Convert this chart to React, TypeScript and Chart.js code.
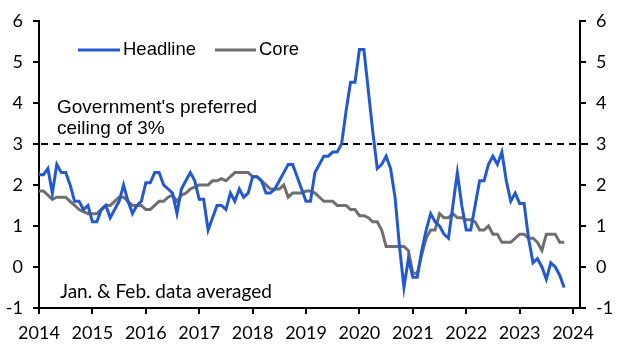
import React, { useEffect, useRef } from "react";
import { Chart, registerables } from "chart.js";

Chart.register(...registerables);

// Monthly series, first value = Dec 2013 (Jan & Feb averaged)
const startYear = 2013;
const startMonth = 12;

const headline: number[] = [
  2.5,
  2.25, 2.25, 2.4, 1.8, 2.5, 2.3, 2.3, 2.0, 1.6, 1.6, 1.4, 1.5,
  1.1, 1.1, 1.4, 1.5, 1.2, 1.4, 1.6, 2.0, 1.6, 1.3, 1.5, 1.6,
  2.05, 2.05, 2.3, 2.3, 2.0, 1.9, 1.8, 1.3, 1.9, 2.1, 2.3, 2.1,
  1.65, 1.65, 0.9, 1.2, 1.5, 1.5, 1.4, 1.8, 1.6, 1.9, 1.7, 1.8,
  2.2, 2.2, 2.1, 1.8, 1.8, 1.9, 2.1, 2.3, 2.5, 2.5, 2.2, 1.9,
  1.6, 1.6, 2.3, 2.5, 2.7, 2.7, 2.8, 2.8, 3.0, 3.8, 4.5, 4.5,
  5.3, 5.3, 4.3, 3.3, 2.4, 2.5, 2.7, 2.4, 1.7, 0.5, -0.5, 0.2,
  -0.25, -0.25, 0.4, 0.9, 1.3, 1.1, 1.0, 0.8, 0.7, 1.5, 2.3, 1.5,
  0.9, 0.9, 1.5, 2.1, 2.1, 2.5, 2.7, 2.5, 2.8, 2.1, 1.6, 1.8,
  1.55, 1.55, 0.7, 0.1, 0.2, 0.0, -0.3, 0.1, 0.0, -0.2, -0.5,
];

const core: number[] = [
  1.85,
  1.85, 1.85, 1.75, 1.65, 1.7, 1.7, 1.7, 1.6, 1.5, 1.4, 1.35, 1.3,
  1.3, 1.3, 1.4, 1.5, 1.5, 1.6, 1.7, 1.7, 1.6, 1.5, 1.5, 1.5,
  1.4, 1.4, 1.5, 1.6, 1.6, 1.7, 1.75, 1.6, 1.75, 1.8, 1.9, 1.95,
  2.0, 2.0, 2.0, 2.1, 2.1, 2.15, 2.1, 2.2, 2.3, 2.3, 2.3, 2.3,
  2.2, 2.2, 2.1, 2.0, 1.9, 1.9, 1.9, 2.0, 1.7, 1.8, 1.8, 1.8,
  1.85, 1.85, 1.8, 1.7, 1.6, 1.6, 1.6, 1.5, 1.5, 1.5, 1.4, 1.4,
  1.25, 1.25, 1.2, 1.1, 1.1, 0.9, 0.5, 0.5, 0.5, 0.5, 0.5, 0.4,
  -0.15, -0.15, 0.3, 0.7, 0.9, 0.9, 1.3, 1.2, 1.2, 1.3, 1.2, 1.2,
  1.15, 1.15, 1.1, 0.9, 0.9, 1.0, 0.8, 0.8, 0.6, 0.6, 0.6, 0.7,
  0.8, 0.8, 0.7, 0.7, 0.6, 0.4, 0.8, 0.8, 0.8, 0.6, 0.6,
];

const seriesLabels = ["Headline", "Core"];
const yTicks = [-1, 0, 1, 2, 3, 4, 5, 6];
const xFirstYear = 2014;
const xLastYear = 2024;
const xAxisEnd = 2024.13;
const ceilingValue = 3;
const ceilingText = ["Government's preferred", "ceiling of 3%"];
const noteText = "Jan. & Feb. data averaged";

const BLUE = "#2259d0";
const GREY = "#6f6f6f";
const TICK_FONT = { family: "Lato, 'Noto Sans', sans-serif", size: 18 };
const NOTE_FONT = "19px Lato, 'Noto Sans', sans-serif";
const TEXT_FONT = "19px 'Liberation Sans', Arial, sans-serif";
const LEGEND_FONT = "18.5px 'Liberation Sans', Arial, sans-serif";

const toPoints = (vals: number[]) =>
  vals.map((v, i) => ({ x: startYear + (startMonth - 1 + i) / 12, y: v }));

const overlay = {
  id: "overlay",
  beforeDatasetsDraw(chart: any) {
    const { ctx, chartArea, scales } = chart;
    const y = scales.y.getPixelForValue(ceilingValue);
    ctx.save();
    ctx.strokeStyle = "#000";
    ctx.lineWidth = 2;
    ctx.setLineDash([7, 5]);
    ctx.beginPath();
    ctx.moveTo(chartArea.left + 2, y);
    ctx.lineTo(chartArea.right + 13, y);
    ctx.stroke();
    ctx.restore();
  },
  afterDraw(chart: any) {
    const { ctx } = chart;
    ctx.save();
    ctx.fillStyle = "#000";
    ctx.textBaseline = "middle";
    ctx.textAlign = "left";
    // legend
    const ds = chart.data.datasets;
    const legendItems = [
      { x0: 78, x1: 120, tx: 123 },
      { x0: 215, x1: 256, tx: 259 },
    ];
    ds.forEach((d: any, i: number) => {
      const it = legendItems[i];
      ctx.strokeStyle = d.borderColor;
      ctx.lineWidth = 3;
      ctx.beginPath();
      ctx.moveTo(it.x0, 50);
      ctx.lineTo(it.x1, 50);
      ctx.stroke();
      ctx.font = LEGEND_FONT;
      ctx.fillText(d.label, it.tx, 50);
    });
    // annotation
    ctx.font = TEXT_FONT;
    ctx.fillText(ceilingText[0], 57, 108);
    ctx.fillText(ceilingText[1], 57, 129);
    ctx.font = NOTE_FONT;
    ctx.fillText(noteText, 60, 292);
    ctx.restore();
  },
};

const axisGrid = {
  drawOnChartArea: false,
  drawTicks: true,
  tickLength: 6,
  color: "#000",
  lineWidth: 2,
};
const axisBorder = { display: true, color: "#000", width: 2 };

export default function App() {
  const ref = useRef<HTMLCanvasElement>(null);
  useEffect(() => {
    if (!ref.current) return;
    const yScale = (position: string, width: number) => ({
      type: "linear",
      position,
      min: yTicks[0],
      max: yTicks[yTicks.length - 1],
      afterBuildTicks: (s: any) => {
        s.ticks = yTicks.map((v) => ({ value: v }));
      },
      ticks: {
        font: TICK_FONT,
        color: "#000",
        padding: 10,
        callback: (v: any) => String(v),
      },
      grid: axisGrid,
      border: axisBorder,
      afterFit: (s: any) => {
        s.width = width;
      },
    });
    const chart = new Chart(ref.current, {
      type: "line",
      data: {
        datasets: [
          {
            label: seriesLabels[0],
            data: toPoints(headline),
            borderColor: BLUE,
            borderWidth: 3,
            pointRadius: 0,
            tension: 0,
            clip: 0,
            yAxisID: "y",
          },
          {
            label: seriesLabels[1],
            data: toPoints(core),
            borderColor: GREY,
            borderWidth: 3,
            pointRadius: 0,
            tension: 0,
            clip: 0,
            yAxisID: "y",
          },
        ],
      } as any,
      options: {
        responsive: false,
        animation: false,
        events: [],
        layout: { padding: { top: 15, left: 0, right: 0, bottom: 0 } },
        plugins: { legend: { display: false }, tooltip: { enabled: false } },
        scales: {
          x: {
            type: "linear",
            min: xFirstYear,
            max: xAxisEnd,
            afterBuildTicks: (s: any) => {
              const t = [];
              for (let yv = xFirstYear; yv <= xLastYear; yv++) t.push({ value: yv });
              s.ticks = t;
            },
            ticks: {
              font: TICK_FONT,
              color: "#000",
              padding: 8,
              maxRotation: 0,
              autoSkip: false,
              callback: (v: any) => String(v),
            },
            grid: axisGrid,
            border: axisBorder,
            afterFit: (s: any) => {
              s.height = 47;
            },
          },
          y: yScale("left", 39),
          y2: yScale("right", 49),
        },
      } as any,
      plugins: [overlay],
    });
    return () => chart.destroy();
  }, []);
  return (
    <div style={{ position: "absolute", left: 0, top: 0, width: 629, height: 355, background: "#fff" }}>
      <canvas ref={ref} width={629} height={355} style={{ display: "block" }} />
    </div>
  );
}
